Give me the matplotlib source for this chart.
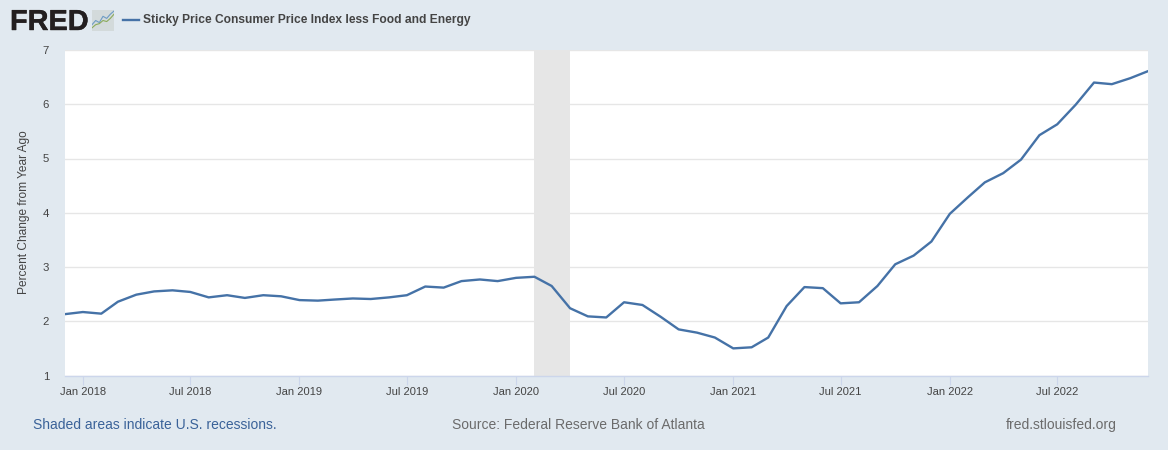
import pandas as pd
import matplotlib.pyplot as plt
import matplotlib.dates as mdates
import matplotlib.patheffects as pe

plt.rcParams['font.family'] = ['Liberation Sans', 'DejaVu Sans']

# Percent change from year ago, monthly, Dec 2017 - Dec 2022
valores = [2.13, 2.17, 2.14, 2.36, 2.49, 2.55, 2.57, 2.54, 2.44, 2.48, 2.43, 2.48, 2.46,
           2.39, 2.38, 2.40, 2.42, 2.41, 2.44, 2.48, 2.64, 2.62, 2.74, 2.77, 2.74,
           2.80, 2.82, 2.65, 2.24, 2.09, 2.07, 2.35, 2.30, 2.08, 1.85, 1.79, 1.70,
           1.50, 1.52, 1.70, 2.28, 2.63, 2.61, 2.33, 2.35, 2.65, 3.05, 3.21, 3.47,
           3.98, 4.29, 4.56, 4.73, 4.98, 5.43, 5.63, 5.99, 6.40, 6.37, 6.48, 6.61]
fechas = pd.date_range('2017-12-01', periods=len(valores), freq='MS')

W, H = 1168, 450
fondo = '#e1e9f0'
azul = '#4572a7'
gris = '#444444'

fig = plt.figure(figsize=(W / 100, H / 100), dpi=100, facecolor=fondo)
ax = fig.add_axes([64.5 / W, 1 - 375.5 / H, (1148 - 64.5) / W, (375.5 - 50) / H])

# Recession band
ax.axvspan(pd.Timestamp('2020-02-01'), pd.Timestamp('2020-04-01'), color='#e6e6e6', lw=0, zorder=2)
ax.plot(fechas, valores, color=azul, lw=1.7, solid_joinstyle='round', zorder=3)

ax.set_xlim(fechas[0], fechas[-1])
ax.set_ylim(1, 7)
ax.set_yticks(range(1, 8))
ax.grid(axis='y', color='#e6e6e6', lw=1, zorder=1)
ax.set_axisbelow(True)
for lado in ['top', 'left', 'right']:
    ax.spines[lado].set_visible(False)
ax.spines['bottom'].set_color('#ccd6eb')
ax.spines['bottom'].set_linewidth(1)

ax.xaxis.set_major_locator(mdates.MonthLocator(bymonth=[1, 7]))
ax.xaxis.set_major_formatter(mdates.DateFormatter('%b %Y'))
ax.tick_params(axis='x', length=6.5, width=0.8, color='#ccd6eb', labelcolor=gris, labelsize=8.0, pad=1.5)
ax.tick_params(axis='y', length=0, labelcolor=gris, labelsize=8.2, pad=11)
ax.set_ylabel('Percent Change from Year Ago', fontsize=8.6, color=gris, labelpad=9, y=0.502)

# Header: logo and legend
fig.text(10 / W, 1 - 30 / H, 'FRED', fontsize=20.8, fontweight='bold', color='#231f20',
         path_effects=[pe.withStroke(linewidth=0.3, foreground='#231f20')])
icono = fig.add_axes([92 / W, 1 - 31 / H, 22 / W, 21 / H], facecolor='#d3dadb')
icono.plot([0, 1, 2, 3, 4, 5, 6], [3, 5, 4, 7, 6, 8, 9.5], color='#6d9cc5', lw=0.8)
icono.plot([0, 1, 2, 3, 4, 5, 6], [1.5, 3, 3.5, 5, 4.5, 6, 8], color='#8cab5c', lw=0.8)
icono.set_xlim(0, 6)
icono.set_ylim(0, 10)
icono.set_xticks([])
icono.set_yticks([])
for lado in icono.spines:
    icono.spines[lado].set_visible(False)

fig.add_artist(plt.Line2D([123 / W, 139 / W], [1 - 20 / H, 1 - 20 / H], color=azul, lw=1.7))
fig.text(143 / W, 1 - 20 / H, 'Sticky Price Consumer Price Index less Food and Energy',
         fontsize=8.65, fontweight='bold', color='#444444', va='center')

# Footer
fig.text(33 / W, 1 - 425 / H, 'Shaded areas indicate U.S. recessions.', fontsize=10.0, color='#3a6299', va='center')
fig.text(452 / W, 1 - 425 / H, 'Source: Federal Reserve Bank of Atlanta', fontsize=10.0, color='#6b6b6b', va='center')
fig.text(1117 / W, 1 - 425 / H, 'fred.stlouisfed.org', fontsize=10.0, color='#6b6b6b', va='center', ha='right')

fig.savefig('out.png', dpi=100, facecolor=fondo)
